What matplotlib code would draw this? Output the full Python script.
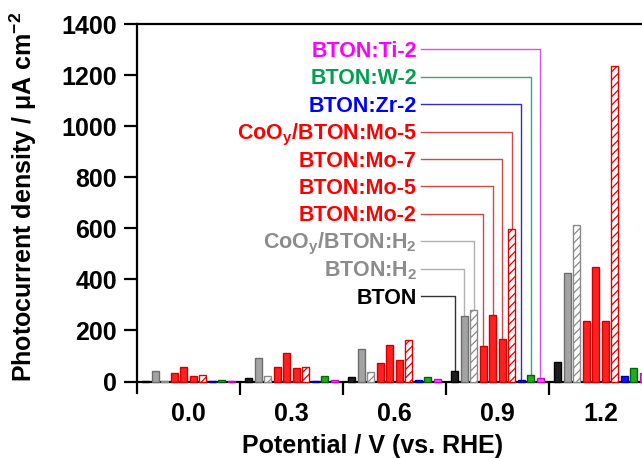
import numpy as np
import matplotlib
matplotlib.use('Agg')
import matplotlib.pyplot as plt

plt.rcParams['font.family'] = ['Liberation Sans', 'DejaVu Sans']
plt.rcParams['font.weight'] = 'bold'
plt.rcParams['mathtext.fontset'] = 'custom'
plt.rcParams['mathtext.rm'] = 'Liberation Sans:bold'
plt.rcParams['mathtext.bf'] = 'Liberation Sans:bold'
plt.rcParams['mathtext.it'] = 'Liberation Sans:bold'
plt.rcParams['mathtext.default'] = 'bf'
plt.rcParams['hatch.linewidth'] = 0.9

# potentials (V vs. RHE)
potentials = ['0.0', '0.3', '0.6', '0.9', '1.2']

samples = ['BTON', 'BTON:H$_2$', 'CoO$_y$/BTON:H$_2$', 'BTON:Mo-2', 'BTON:Mo-5',
           'BTON:Mo-7', 'CoO$_y$/BTON:Mo-5', 'BTON:Zr-2', 'BTON:W-2', 'BTON:Ti-2']

# photocurrent density, uA cm-2, one list per sample (values at 0.0 .. 1.2 V)
bton      = [3, 14, 19, 40, 77]
bton_h2   = [40, 91, 127, 257, 426]
coo_h2    = [3, 23, 39, 280, 612]
mo2       = [34, 55, 73, 138, 237]
mo5       = [57, 110, 144, 261, 450]
mo7       = [20, 51, 85, 165, 237]
coo_mo5   = [26, 55, 162, 598, 1235]
zr2       = [2, 3, 5, 5, 20]
w2        = [5, 22, 17, 26, 53]
ti2       = [3, 6, 9, 13, 34]
values = [bton, bton_h2, coo_h2, mo2, mo5, mo7, coo_mo5, zr2, w2, ti2]

face  = ['#1e1e1e', '#a3a3a3', 'white', '#ff2020', '#ff2020', '#ff2020', 'white',
         '#1010ff', '#22aa22', '#ff55ff']
edge  = ['black', '#6e6e6e', '#8a8a8a', '#d00000', '#d00000', '#d00000', '#e00000',
         '#0000aa', '#006600', '#cc00cc']
hatch = [None, None, '////', None, None, None, '////', None, None, None]
text_col = ['black', '#8c8c8c', '#8c8c8c', '#ff0000', '#ff0000', '#ff0000', '#ff0000',
            '#0000ff', '#00a050', '#ff00ff']
line_col = ['#333333', '#b0b0b0', '#b0b0b0', '#d04848', '#d04848', '#d04848', '#d04848',
            '#3030c0', '#3aa870', '#e050e0']

fig = plt.figure(figsize=(6.42, 4.58), dpi=100)
ax = fig.add_axes([137/642, 1 - 393/458, 515/642, 369/458])

step = 0.0922
width = 0.068
n = len(samples)
grp = np.arange(len(potentials))
for i in range(n):
    x = grp + 0.5 + (i - (n - 1) / 2) * step
    ax.bar(x, values[i], width=width, color=face[i], edgecolor=edge[i],
           hatch=hatch[i], linewidth=1.0, zorder=3)

# labels with leader lines to the 0.9 V bars
lab_y0, lab_dy = 335, 107.3
for i in range(n):
    ly = lab_y0 + i * lab_dy
    bx = 3 + 0.5 + (i - (n - 1) / 2) * step
    ax.plot([2.757, bx, bx], [ly, ly, values[i][3]], color=line_col[i], lw=1.0,
            zorder=2, clip_on=False)
    ax.annotate(samples[i], xy=(2.718, ly), xytext=(0, -5.5), textcoords='offset points',
                ha='right', va='baseline', fontsize=15.5, fontweight='bold',
                color=text_col[i])

ax.set_xlim(0, 5)
ax.set_ylim(-45, 1400)
ax.spines['bottom'].set_position(('data', 0))
ax.spines['right'].set_visible(False)
for s in ['left', 'bottom', 'top']:
    ax.spines[s].set_linewidth(1.6)

ax.set_yticks(np.arange(0, 1401, 200))
ax.tick_params(axis='y', direction='out', length=9.5, width=1.6, pad=5, labelsize=18)
ax.set_xticks([1, 2, 3, 4])
ax.set_xticklabels([])
ax.set_xticks(grp + 0.5, minor=True)
ax.set_xticklabels(potentials, minor=True)
ax.tick_params(axis='x', which='major', direction='out', length=9.7, width=1.6)
ax.tick_params(axis='x', which='minor', length=0, pad=14.5, labelsize=18)

ax.set_xlabel('Potential / V (vs. RHE)', fontsize=18, fontweight='bold')
ax.xaxis.set_label_coords(0.458, -0.112)
ax.set_ylabel('Photocurrent density / \u03bcA cm$^{-2}$', fontsize=18, fontweight='bold',
              va='center')
ax.yaxis.set_label_coords(-0.2214, 0.531)

fig.savefig('out.png', dpi=100)
